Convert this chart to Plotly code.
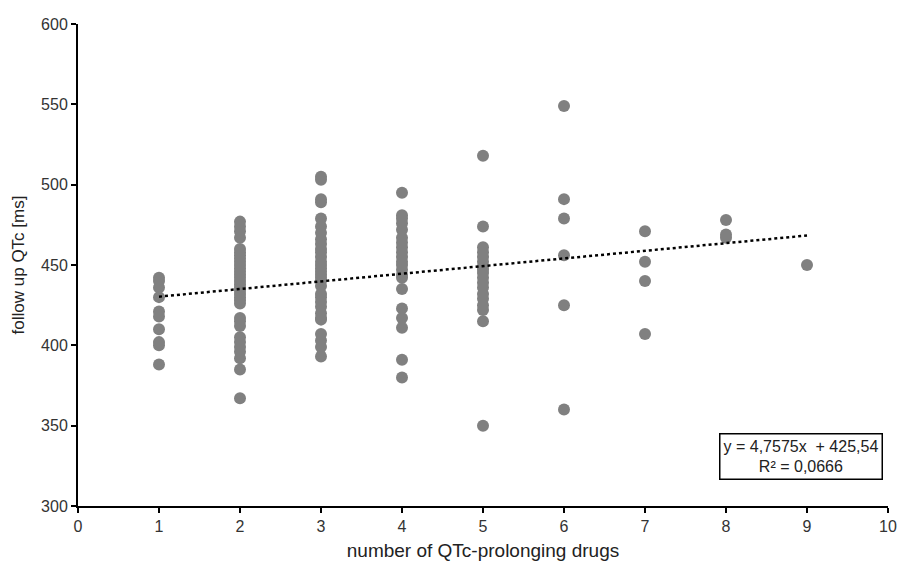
import plotly.graph_objects as go

# Data
x1 = [442, 440, 436, 430, 421, 418, 410, 402, 400, 388]
x2 = [477, 474, 471, 467, 460, 458, 456, 454, 452, 450, 448, 446, 444, 442, 440,
      438, 436, 434, 432, 430, 428, 426, 417, 415, 412, 405, 402, 399, 396, 392, 385, 367]
x3 = [505, 503, 491, 489, 479, 474, 470, 466, 463, 460, 458, 455, 452, 450, 448,
      446, 444, 442, 440, 437, 432, 430, 427, 424, 420, 417, 416, 407, 403, 399, 393]
x4 = [495, 481, 479, 476, 472, 467, 464, 461, 458, 455, 452, 450, 447, 444, 442,
      435, 423, 417, 411, 391, 380]
x5 = [518, 474, 461, 458, 455, 452, 449, 447, 445, 442, 439, 436, 432, 429, 425, 422, 415, 350]
x6 = [549, 491, 479, 456, 425, 360]
x7 = [471, 452, 440, 407]
x8 = [478, 469, 467]
x9 = [450]

groups = {1: x1, 2: x2, 3: x3, 4: x4, 5: x5, 6: x6, 7: x7, 8: x8, 9: x9}

slope = 4.7575
intercept = 425.54
trend_x = [1, 9]
trend_y = [slope * v + intercept for v in trend_x]

xs, ys = [], []
for k, vals in groups.items():
    xs += [k] * len(vals)
    ys += vals

fig = go.Figure()
fig.add_trace(go.Scatter(
    x=xs, y=ys, mode="markers",
    marker=dict(size=12, color="#808080"),
    showlegend=False, hoverinfo="x+y"
))
fig.add_trace(go.Scatter(
    x=trend_x, y=trend_y, mode="lines",
    line=dict(color="black", width=2.5, dash="dot"),
    showlegend=False, hoverinfo="skip"
))

fig.add_annotation(
    x=8.93, y=331, xref="x", yref="y",
    text="y = 4,7575x  + 425,54<br>R² = 0,0666",
    showarrow=False, align="center",
    font=dict(family="Liberation Sans, Arial, sans-serif", size=16, color="#222222"),
    bordercolor="black", borderwidth=1.5, borderpad=3, bgcolor="white"
)

family = "Liberation Sans, Arial, sans-serif"
axis_font = dict(family=family, size=16, color="#333333")
xtitle_font = dict(family=family, size=19, color="#222222")
ytitle_font = dict(family=family, size=17, color="#222222")

fig.update_layout(
    width=898, height=561,
    margin=dict(l=78, r=10, t=24, b=55, autoexpand=False),
    paper_bgcolor="white", plot_bgcolor="white",
    font=axis_font,
    xaxis=dict(
        range=[0, 10], dtick=1, tick0=0, automargin=False,
        showline=True, linecolor="black", linewidth=2,
        ticks="outside", ticklen=5, tickcolor="black", tickwidth=1.5,
        showgrid=False, zeroline=False,
        title=dict(text="number of QTc-prolonging drugs", font=xtitle_font, standoff=16),
        tickfont=axis_font,
    ),
    yaxis=dict(
        range=[300, 600], dtick=50, automargin=False,
        showline=True, linecolor="black", linewidth=2,
        ticks="outside", ticklen=5, tickcolor="black", tickwidth=1.5,
        showgrid=False, zeroline=False,
        title=dict(text="follow up QTc [ms]", font=ytitle_font, standoff=12),
        tickfont=axis_font,
    ),
)

fig.write_html(
    "out.html",
    config={"displayModeBar": False},
    post_script="document.body.style.margin='0';document.body.style.overflow='hidden';"
)
